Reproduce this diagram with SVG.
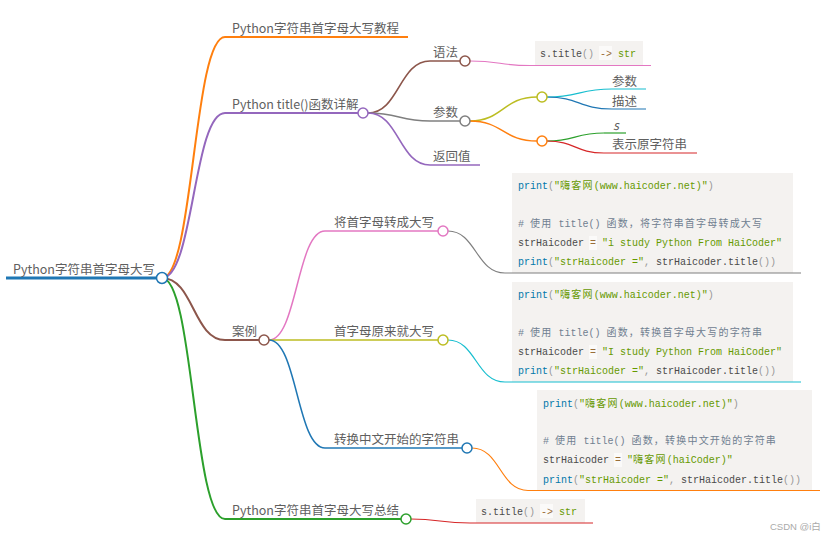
<svg xmlns="http://www.w3.org/2000/svg" width="833" height="540" viewBox="0 0 833 540">
<style>
.t{font-family:"Noto Sans CJK SC","Microsoft YaHei",sans-serif;font-size:12.5px;fill:#5f5f5f}
.c{font-family:"Liberation Mono","Noto Sans CJK SC",monospace;font-size:10px;fill:#4a4a4a}
.cjk{letter-spacing:1.2px}
.kw{fill:#0077aa}.st{fill:#669900}.pu{fill:#999}.cm{fill:#708090}.op{fill:#9a6e3a}
.box{fill:#f4f2f0}
.opbg{fill:#fff;fill-opacity:.6}
.lk{fill:none}
.dot{fill:#fff;stroke-width:1.5}
</style>
<rect width="833" height="540" fill="#fff"/>
<g id="connectors" class="lk">
<path d="M6,278 H157" stroke="#1f77b4" stroke-width="3"/>
<path d="M162,278 C193.5,278 193.5,37 225,37" stroke="#ff7f0e" stroke-width="2"/>
<path d="M162,278 C193.5,278 193.5,113 225,113" stroke="#9467bd" stroke-width="2"/>
<path d="M162,278 C193.5,278 193.5,340 225,340" stroke="#8c564b" stroke-width="2"/>
<path d="M162,278 C193.5,278 193.5,519 225,519" stroke="#2ca02c" stroke-width="2"/>
<path d="M368,113 C399,113 399,61 430,61" stroke="#8c564b" stroke-width="1.5"/>
<path d="M368,113 C399,113 399,121 430,121" stroke="#7f7f7f" stroke-width="1.5"/>
<path d="M368,113 C399,113 399,165 430,165" stroke="#9467bd" stroke-width="1.5"/>
<path d="M470,61 C500,61 500,65.5 530,65.5" stroke="#e377c2" stroke-width="1.2"/>
<path d="M470,121 C503,121 503,97 537,97" stroke="#bcbd22" stroke-width="1.5"/>
<path d="M470,121 C503,121 503,141 537,141" stroke="#ff7f0e" stroke-width="1.5"/>
<path d="M547,97 C579,97 579,89 612,89" stroke="#17becf" stroke-width="1.2"/>
<path d="M547,97 C579,97 579,109 612,109" stroke="#1f77b4" stroke-width="1.2"/>
<path d="M547,141 C575,141 575,133 604,133" stroke="#2ca02c" stroke-width="1.2"/>
<path d="M547,141 C575,141 575,153 604,153" stroke="#d62728" stroke-width="1.2"/>
<path d="M269,340 C297,340 297,231 325,231" stroke="#e377c2" stroke-width="1.5"/>
<path d="M269,340 H325" stroke="#bcbd22" stroke-width="1.5"/>
<path d="M269,340 C297,340 297,448 325,448" stroke="#1f77b4" stroke-width="1.5"/>
<path d="M448,231 C476,231 476,273 505,273" stroke="#7f7f7f" stroke-width="1.2"/>
<path d="M448,340 C476,340 476,382 505,382" stroke="#17becf" stroke-width="1.2"/>
<path d="M472,448 C500,448 500,490.5 528,490.5" stroke="#ff7f0e" stroke-width="1.2"/>
<path d="M411,519 C440,519 440,523 470,523" stroke="#d62728" stroke-width="1.2"/>
</g>

<g id="root">
<text class="t" x="13" y="274">Python字符串首字母大写</text>
<circle class="dot" cx="162" cy="278" r="5.5" stroke="#1f77b4"/>
</g>

<g id="n-tutorial">
<path d="M225,37 H408" stroke="#ff7f0e" stroke-width="2" fill="none"/>
<text class="t" x="232" y="33">Python字符串首字母大写教程</text>
</g>

<g id="n-title">
<path d="M225,113 H358" stroke="#9467bd" stroke-width="2" fill="none"/>
<text class="t" x="232" y="109">Python title()函数详解</text>
<circle class="dot" cx="363" cy="113" r="5" stroke="#9467bd"/>
</g>

<g id="n-syntax">
<path d="M430,61 H460" stroke="#8c564b" stroke-width="1.5" fill="none"/>
<text class="t" x="433" y="57">语法</text>
<circle class="dot" cx="465" cy="61" r="5" stroke="#8c564b"/>
</g>

<g id="n-syntax-code">
<rect class="box" x="535" y="41" width="108" height="24"/>
<rect class="opbg" x="599" y="46" width="13" height="14"/>
<path d="M530,65.5 H651" stroke="#e377c2" stroke-width="1.2" fill="none"/>
<text class="c" x="540" y="57">s.title<tspan class="pu">()</tspan> <tspan class="op">-&gt;</tspan> <tspan class="st">str</tspan></text>
</g>

<g id="n-params">
<path d="M430,121 H460" stroke="#7f7f7f" stroke-width="1.5" fill="none"/>
<text class="t" x="433" y="117">参数</text>
<circle class="dot" cx="465" cy="121" r="5" stroke="#7f7f7f"/>
</g>

<g id="n-params-a">
<circle class="dot" cx="542" cy="97" r="5" stroke="#bcbd22"/>
</g>

<g id="n-params-b">
<circle class="dot" cx="542" cy="141" r="5" stroke="#ff7f0e"/>
</g>

<g id="n-param-head">
<path d="M612,89 H646" stroke="#17becf" stroke-width="1.2" fill="none"/>
<text class="t" x="612" y="86">参数</text>
</g>

<g id="n-desc-head">
<path d="M612,109 H646" stroke="#1f77b4" stroke-width="1.2" fill="none"/>
<text class="t" x="612" y="106">描述</text>
</g>

<g id="n-s">
<path d="M604,133 H626" stroke="#2ca02c" stroke-width="1.2" fill="none"/>
<text class="t" x="613" y="130" font-style="italic">s</text>
</g>

<g id="n-s-desc">
<path d="M604,153 H697" stroke="#d62728" stroke-width="1.2" fill="none"/>
<text class="t" x="612" y="149">表示原字符串</text>
</g>

<g id="n-return">
<path d="M430,165 H480" stroke="#9467bd" stroke-width="1.5" fill="none"/>
<text class="t" x="433" y="161">返回值</text>
</g>

<g id="n-cases">
<path d="M225,340 H259" stroke="#8c564b" stroke-width="2" fill="none"/>
<text class="t" x="232" y="336">案例</text>
<circle class="dot" cx="264" cy="340" r="5" stroke="#8c564b"/>
</g>

<g id="n-case1">
<path d="M325,231 H438" stroke="#e377c2" stroke-width="1.5" fill="none"/>
<text class="t" x="334" y="227">将首字母转成大写</text>
<circle class="dot" cx="443" cy="231" r="5" stroke="#e377c2"/>
</g>

<g id="n-case1-code">
<rect class="box" x="512" y="173" width="281" height="100"/>
<rect class="opbg" x="589" y="236" width="8" height="14"/>
<path d="M505,273 H801" stroke="#7f7f7f" stroke-width="1.2" fill="none"/>
<text class="c" x="518" y="189"><tspan class="kw">print</tspan><tspan class="pu">(</tspan><tspan class="st">"<tspan class="cjk">嗨客网</tspan>(www.haicoder.net)"</tspan><tspan class="pu">)</tspan></text>
<text class="c cm" x="518" y="227"># <tspan class="cjk">使用</tspan> title() <tspan class="cjk">函数，将字符串首字母转成大写</tspan></text>
<text class="c" x="518" y="246">strHaicoder <tspan class="op">=</tspan> <tspan class="st">"i study Python From HaiCoder"</tspan></text>
<text class="c" x="518" y="265"><tspan class="kw">print</tspan><tspan class="pu">(</tspan><tspan class="st">"strHaicoder ="</tspan><tspan class="pu">,</tspan> strHaicoder.title<tspan class="pu">())</tspan></text>
</g>

<g id="n-case2">
<path d="M325,340 H438" stroke="#bcbd22" stroke-width="1.5" fill="none"/>
<text class="t" x="334" y="336">首字母原来就大写</text>
<circle class="dot" cx="443" cy="340" r="5" stroke="#bcbd22"/>
</g>

<g id="n-case2-code">
<rect class="box" x="512" y="282" width="281" height="100"/>
<rect class="opbg" x="589" y="345" width="8" height="14"/>
<path d="M505,382 H801" stroke="#17becf" stroke-width="1.2" fill="none"/>
<text class="c" x="518" y="298"><tspan class="kw">print</tspan><tspan class="pu">(</tspan><tspan class="st">"<tspan class="cjk">嗨客网</tspan>(www.haicoder.net)"</tspan><tspan class="pu">)</tspan></text>
<text class="c cm" x="518" y="336"># <tspan class="cjk">使用</tspan> title() <tspan class="cjk">函数，转换首字母大写的字符串</tspan></text>
<text class="c" x="518" y="355">strHaicoder <tspan class="op">=</tspan> <tspan class="st">"I study Python From HaiCoder"</tspan></text>
<text class="c" x="518" y="374"><tspan class="kw">print</tspan><tspan class="pu">(</tspan><tspan class="st">"strHaicoder ="</tspan><tspan class="pu">,</tspan> strHaicoder.title<tspan class="pu">())</tspan></text>
</g>

<g id="n-case3">
<path d="M325,448 H462" stroke="#1f77b4" stroke-width="1.5" fill="none"/>
<text class="t" x="334" y="444">转换中文开始的字符串</text>
<circle class="dot" cx="467" cy="448" r="5" stroke="#1f77b4"/>
</g>

<g id="n-case3-code">
<rect class="box" x="537" y="390" width="275" height="100"/>
<rect class="opbg" x="614" y="453" width="8" height="14"/>
<path d="M528,490.5 H820" stroke="#ff7f0e" stroke-width="1.2" fill="none"/>
<text class="c" x="543" y="406.5"><tspan class="kw">print</tspan><tspan class="pu">(</tspan><tspan class="st">"<tspan class="cjk">嗨客网</tspan>(www.haicoder.net)"</tspan><tspan class="pu">)</tspan></text>
<text class="c cm" x="543" y="444"># <tspan class="cjk">使用</tspan> title() <tspan class="cjk">函数，转换中文开始的字符串</tspan></text>
<text class="c" x="543" y="463">strHaicoder <tspan class="op">=</tspan> <tspan class="st">"<tspan class="cjk">嗨客网</tspan>(haiCoder)"</tspan></text>
<text class="c" x="543" y="483"><tspan class="kw">print</tspan><tspan class="pu">(</tspan><tspan class="st">"strHaicoder ="</tspan><tspan class="pu">,</tspan> strHaicoder.title<tspan class="pu">())</tspan></text>
</g>

<g id="n-summary">
<path d="M225,519 H401" stroke="#2ca02c" stroke-width="2" fill="none"/>
<text class="t" x="232" y="515">Python字符串首字母大写总结</text>
<circle class="dot" cx="406" cy="519" r="5" stroke="#2ca02c"/>
</g>

<g id="n-summary-code">
<rect class="box" x="476" y="499" width="109" height="24"/>
<rect class="opbg" x="540" y="504" width="13" height="14"/>
<path d="M470,523 H593" stroke="#d62728" stroke-width="1.2" fill="none"/>
<text class="c" x="481" y="515">s.title<tspan class="pu">()</tspan> <tspan class="op">-&gt;</tspan> <tspan class="st">str</tspan></text>
</g>

<text x="770" y="530" font-family="Liberation Sans, Noto Sans CJK SC, sans-serif" font-size="9.5" fill="#aaa">CSDN @i白</text>
</svg>
